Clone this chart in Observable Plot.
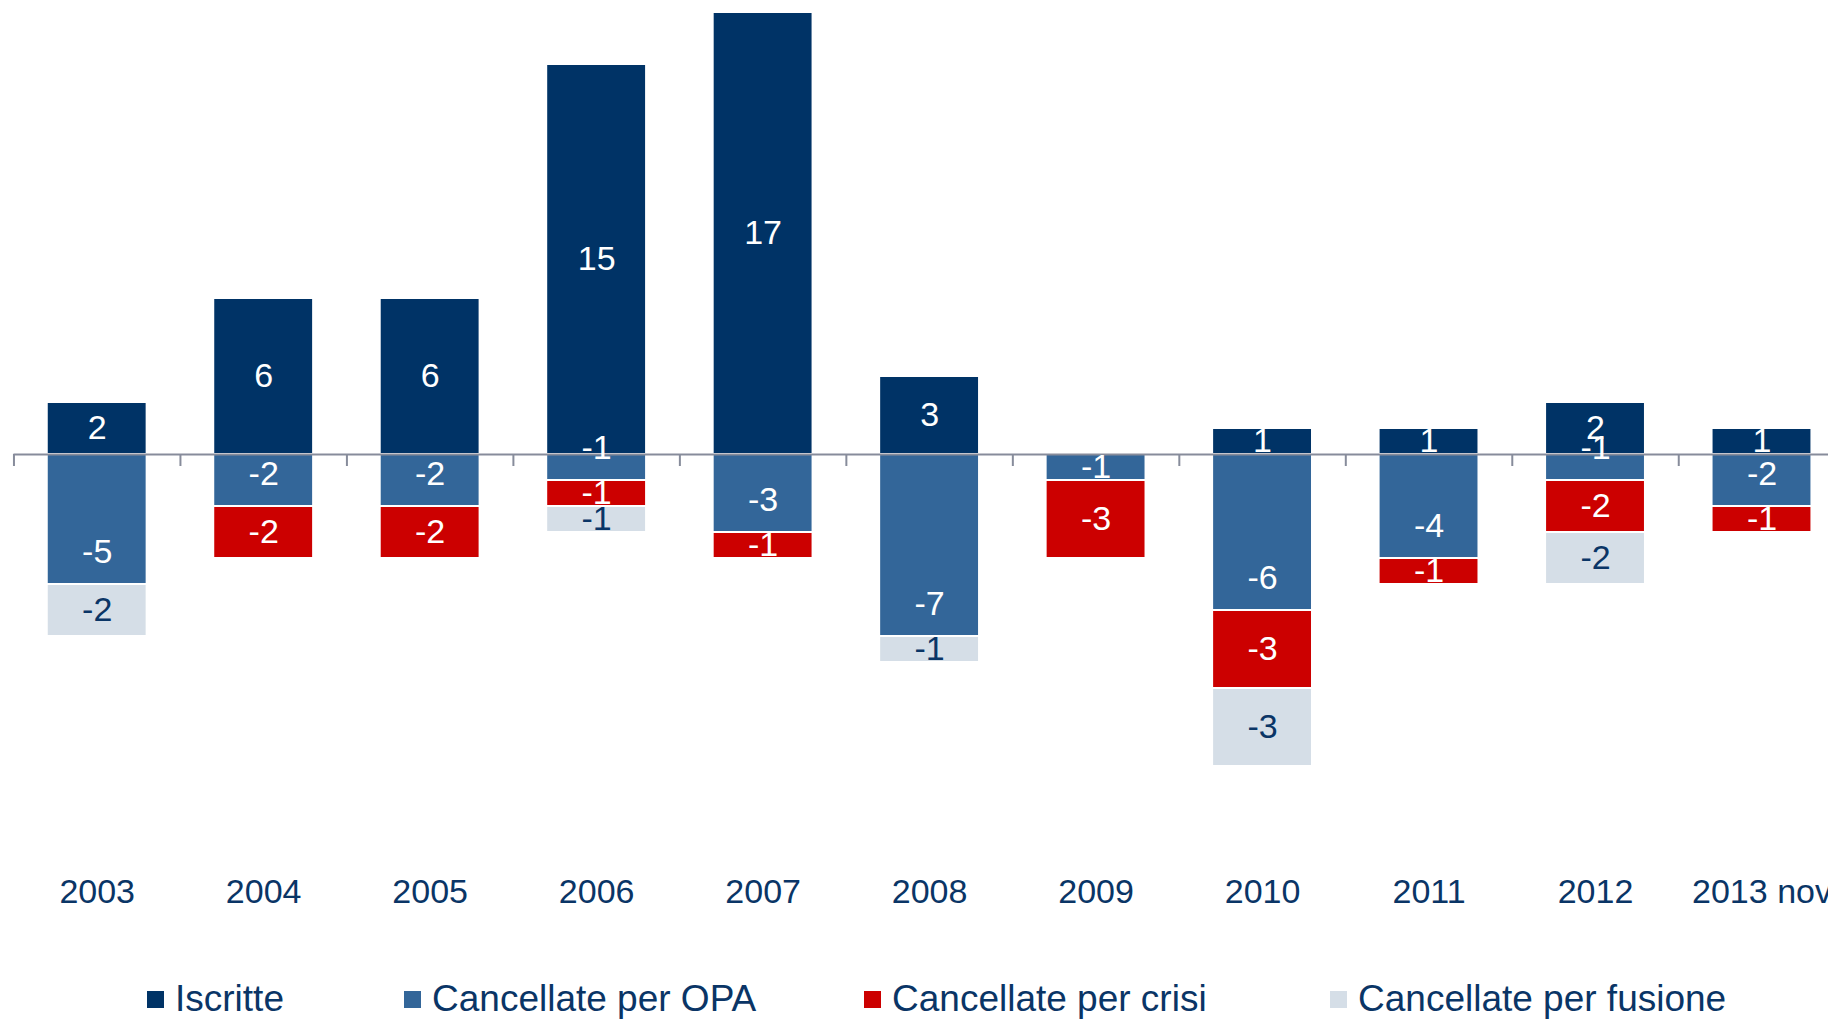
<!DOCTYPE html>
<html>
<head>
<meta charset="utf-8">
<script src="https://cdn.jsdelivr.net/npm/d3@7"></script>
<script src="https://cdn.jsdelivr.net/npm/@observablehq/plot@0.6"></script>
<style>
  html, body { margin: 0; padding: 0; background: #fff; overflow: hidden; width: 1828px; height: 1019px; }
  #chart { position: absolute; left: 0; top: 0; }
  #legend { position: absolute; left: 0; top: 979px; width: 1828px; height: 40px;
    font-family: "Liberation Sans", Arial, sans-serif; font-size: 37px; color: #0a3566; line-height: 40px;
    white-space: nowrap; }
  .item { position: absolute; top: 0; height: 40px; display: flex; align-items: center; }
  .sw { width: 17px; height: 17px; margin-right: 11px; }
</style>
</head>
<body>
<div id="chart"></div>
<div id="legend"></div>
<script>
// ---- Data ----
const years = ["2003", "2004", "2005", "2006", "2007", "2008", "2009", "2010", "2011", "2012", "2013 nov"];
const series = ["Iscritte", "Cancellate per OPA", "Cancellate per crisi", "Cancellate per fusione"];
const iscritte = [2, 6, 6, 15, 17, 3, 0, 1, 1, 2, 1];
const cancOPA = [-5, -2, -2, -1, -3, -7, -1, -6, -4, -1, -2];
const cancCrisi = [0, -2, -2, -1, -1, 0, -3, -3, -1, -2, -1];
const cancFusione = [-2, 0, 0, -1, 0, -1, 0, -3, 0, -2, 0];
const colors = ["#003366", "#336699", "#cc0000", "#d5dee7"];
const textNavy = "#0a3566";

const seriesValues = [iscritte, cancOPA, cancCrisi, cancFusione];
const rows = [];
years.forEach((year, i) => {
  series.forEach((s, j) => {
    const v = seriesValues[j][i];
    if (v !== 0) rows.push({year, series: s, value: v, iscritte: iscritte[i]});
  });
});

// OPA labels sit near the bar end (Excel "inside end") when a positive bar exists above
const atEnd = d => d.series === "Cancellate per OPA" && d.iscritte > 0;
const isFus = d => d.series === "Cancellate per fusione";

// ---- Layout ----
const x0 = 13.46, step = 166.48;
const fontFamily = '"Liberation Sans", Arial, sans-serif';

const plot = Plot.plot({
  width: 1828,
  height: 930,
  marginTop: 0,
  marginLeft: x0,
  marginRight: 0,
  marginBottom: 216,
  style: {fontFamily, background: "transparent", overflow: "visible"},
  x: {domain: years, range: [x0, x0 + step * years.length], paddingInner: 0.4, paddingOuter: 0.2, round: false, label: null},
  y: {domain: [-10, 454 / 26], range: [714, 0], axis: null},
  color: {domain: series, range: colors},
  marks: [
    Plot.barY(rows, Plot.stackY({x: "year", y: "value", fill: "series", stroke: "#ffffff", strokeWidth: 2})),
    Plot.ruleY([0], {stroke: "#878c9b", strokeWidth: 2}),
    Plot.ruleX(years, {x: d => d, y1: 0, y2: 0, insetBottom: -12, dx: -step / 2, stroke: "#878c9b", strokeWidth: 2}),
    Plot.text(rows, Plot.stackY({x: "year", y: "value",
      text: d => !isFus(d) && !atEnd(d) ? String(d.value) : null,
      fill: "#ffffff", fontSize: 34})),
    Plot.text(rows, Plot.stackY2({x: "year", y: "value",
      text: d => atEnd(d) ? String(d.value) : null,
      fill: "#ffffff", fontSize: 34, dy: -32})),
    Plot.text(rows, Plot.stackY({x: "year", y: "value",
      text: d => isFus(d) ? String(d.value) : null,
      fill: textNavy, fontSize: 34})),
    Plot.axisX({anchor: "bottom", tickSize: 0, tickPadding: 164, fontSize: 34, color: textNavy, label: null})
  ]
});
document.getElementById("chart").appendChild(plot);

// ---- Legend ----
const legend = document.getElementById("legend");
const legendLeft = [147, 404, 864, 1330];
series.forEach((s, j) => {
  const item = document.createElement("div");
  item.className = "item";
  item.style.left = legendLeft[j] + "px";
  const sw = document.createElement("span");
  sw.className = "sw";
  sw.style.background = colors[j];
  const lab = document.createElement("span");
  lab.textContent = s;
  item.appendChild(sw);
  item.appendChild(lab);
  legend.appendChild(item);
});
</script>
</body>
</html>
